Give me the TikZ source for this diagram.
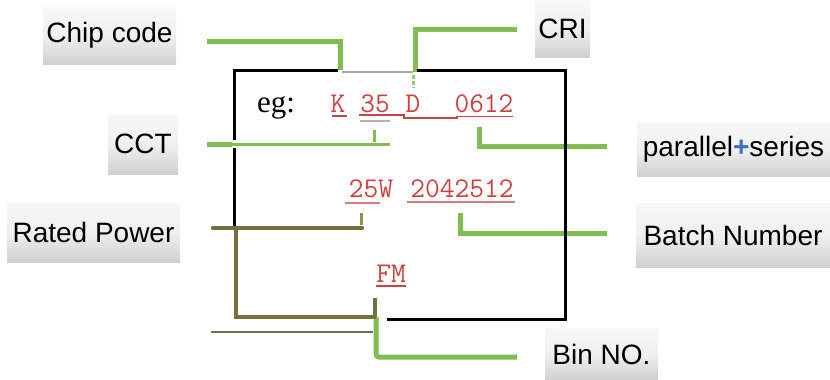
\documentclass[tikz,border=0pt]{standalone}
\usepackage{fontspec}
\setmainfont{Liberation Sans}
\newfontfamily\egfont{Liberation Serif}
\definecolor{lgreen}{RGB}{128,188,80}
\definecolor{olivel}{RGB}{118,112,60}
\definecolor{codered}{RGB}{205,65,65}
\definecolor{plusblue}{RGB}{60,110,200}
\pgfdeclareverticalshading{lblshade}{100bp}{color(0bp)=(black!18); color(8bp)=(black!30); color(22bp)=(black!20); color(50bp)=(black!6); color(100bp)=(white)}
\tikzset{
  lbl/.style={shade, shading=lblshade, inner sep=0pt, font=\fontsize{28}{32}\selectfont, text=black},
  grn/.style={draw=lgreen, line width=5pt},
  grnthin/.style={draw=lgreen, line width=3pt},
  olv/.style={draw=olivel, line width=4.5pt},
  boxline/.style={draw=black, line width=3pt},
  code/.style={text=codered, inner sep=0pt, anchor=base, font=\ttfamily\fontsize{28.6}{30}\selectfont},
  uline/.style={draw=codered, line width=1.6pt},
}
\begin{document}
\begin{tikzpicture}[x=1pt,y=-1pt]
\useasboundingbox (0,0) rectangle (830,380);
% labels
\node[lbl, minimum width=133pt, minimum height=57pt] (chip) at (109.5,35.5) {Chip code};
\node[lbl, minimum width=55pt, minimum height=57pt] (cri) at (562.5,28.5) {CRI};
\node[lbl, minimum width=70pt, minimum height=60pt] (cct) at (143,144) {CCT};
\node[lbl, minimum width=193pt, minimum height=54pt] (ps) at (733.5,149) {parallel{\color{plusblue}\textbf{+}}series};
\node[lbl, minimum width=173pt, minimum height=60pt] (rp) at (93.5,232) {Rated Power};
\node[lbl, minimum width=194pt, minimum height=64pt] (bn) at (733,235) {Batch Number};
\node[lbl, minimum width=113pt, minimum height=52pt] (bin) at (601.5,354) {Bin NO.};

% code text
\node[inner sep=0pt, anchor=base west, font=\egfont\fontsize{31}{34}\selectfont] (eg) at (257,112) {eg:};
\node[code] (k) at (338,112) {K};
\node[code] (t35) at (375,112) {35};
\node[code] (d) at (413,112) {D};
\node[code] (t0612) at (484,112) {0612};
\node[code] (t25w) at (371,197) {25W};
\node[code] (batch) at (462,197) {2042512};
\node[code] (fm) at (391,282) {FM};

% underlines
\draw[uline] (332,116) -- (347,116);
\draw[uline] (359,115) -- (404,115) -- (404,118) -- (457,118) -- (457,116.5) -- (513,116.5);
\draw[draw=gray!60, line width=1.5pt] (360,121) -- (390,121);
\draw[draw=codered!70, line width=1.2pt] (345,203) -- (380,203);
\draw[draw=codered!70, line width=1.2pt] (407,202) -- (515,202);
\draw[uline, line width=2pt] (376,286) -- (406,286);

% connector coordinates
\coordinate (chipA) at (207,41);
\coordinate (chipB) at (340,41);
\coordinate (chipC) at (340,70);
\coordinate (criA) at (517,29);
\coordinate (criB) at (415,29);
\coordinate (criC) at (415,72);
\coordinate (cctA) at (207,144);
\coordinate (cctB) at (232,144);
\coordinate (cctC) at (390,144);
\coordinate (psA) at (479,127);
\coordinate (psB) at (607,146);
\coordinate (bnA) at (460,213);
\coordinate (bnB) at (607,233);
\coordinate (binA) at (376,317);
\coordinate (binB) at (517,357);
\coordinate (rpA) at (213,228);
\coordinate (rpB) at (362,228);
\coordinate (rpC) at (236,228);
\coordinate (rpD) at (376,317);

% green connectors
\draw[grn] (chipA) -- (chipB) -- (chipC);
\draw[grn] (criA) -- (criB) -- (criC);
\draw[draw=lgreen!80, line width=3pt, dash pattern=on 4pt off 2pt] (413,75) -- (413,88);
\draw[grn] (cctA) -- (cctB);
\draw[grnthin] (cctB) -- (cctC);
\draw[grnthin] (374,130) -- (374,142);
\draw[grn] (psA) |- (psB);
\draw[grn] (bnA) |- (bnB);
\draw[grn, rounded corners=3pt] (binA) |- (binB);

% olive connectors
\draw[draw=lgreen!60!olivel, line width=3pt] (361,213) -- (361,225);
\draw[olv, line cap=round] (rpA) -- (rpB);
\draw[olv] (rpC) -- (236,317) -- (rpD);
\draw[olv] (375,298) -- (375,317);
\draw[draw=olivel, line width=2pt] (211,332) -- (373,332);

% main box
\draw[boxline] (234,140) -- (234,70) -- (338,70);
\draw[draw=gray!70, line width=2pt] (342,72) -- (413,72);
\draw[boxline] (417,70) -- (565,70) -- (565,319) -- (387,319);
\draw[boxline] (234,148) -- (234,226);
\end{tikzpicture}
\end{document}
